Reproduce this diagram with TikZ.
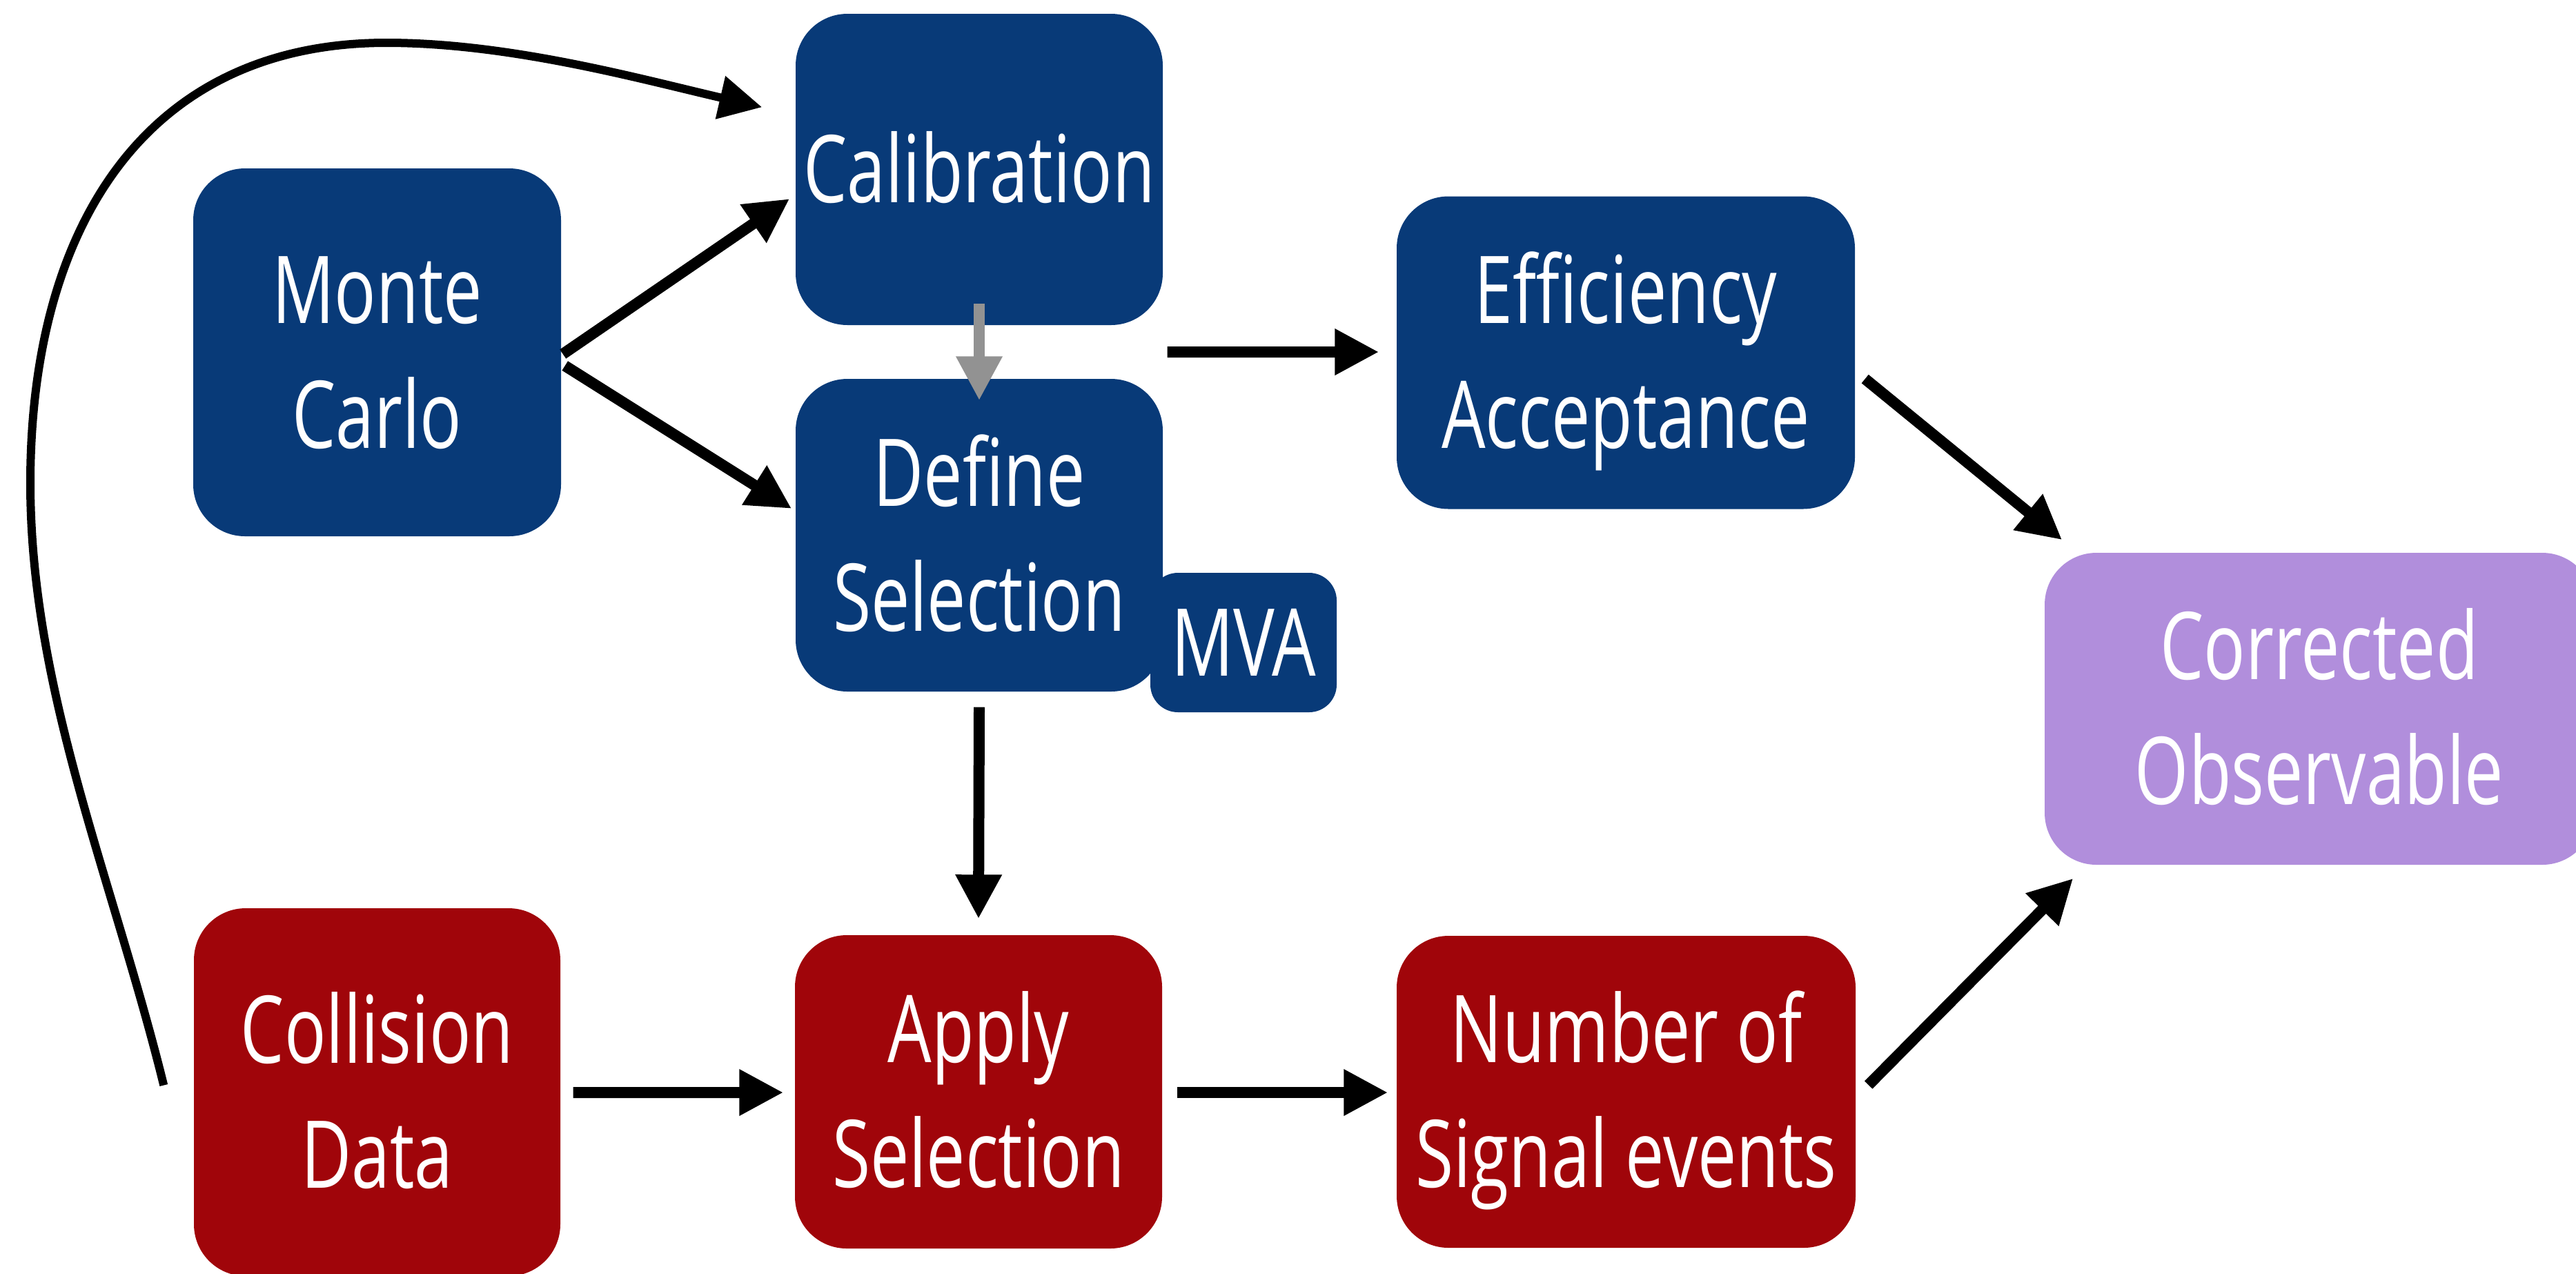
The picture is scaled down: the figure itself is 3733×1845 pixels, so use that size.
\documentclass[tikz,border=0pt]{standalone}
\usepackage{fontspec}
\setmainfont[FakeStretch=0.74]{Open Sans}
\usetikzlibrary{arrows.meta,calc}
\definecolor{mcblue}{HTML}{083A78}
\definecolor{datared}{HTML}{A0050A}
\definecolor{obspurple}{HTML}{B18EDC}
\definecolor{arrgray}{HTML}{929292}
\newcommand\tl[1]{\vphantom{H}\smash{#1}}
\tikzset{
  box/.style={rounded corners=7.5mm, inner sep=0pt, align=center, text=white,
    font=\fontsize{38.6pt}{51.5pt}\selectfont},
  bluebox/.style={box, fill=mcblue},
  redbox/.style={box, fill=datared},
  purplebox/.style={box, fill=obspurple},
  arr/.style={line width=1.6mm, -{Triangle[length=6.4mm,width=6.3mm]}},
  grayarr/.style={line width=1.6mm, draw=arrgray, -{Triangle[length=6.4mm,width=6.3mm]}},
  curvearr/.style={line width=1.2mm, -{Triangle[length=6.2mm,width=6.1mm]}},
}
\begin{document}
\begin{tikzpicture}[x=0.1mm,y=-0.1mm]
\useasboundingbox (0,0) rectangle (3733,1845);
\clip (0,0) rectangle (3733,1845);
% nodes
\node[bluebox, minimum width=53.3mm, minimum height=53.3mm] (mc) at (546.5,510.5) {\tl{Monte}\\\tl{Carlo}};
\node[bluebox, minimum width=53.2mm, minimum height=45.1mm] (cal) at (1419,245.5) {\tl{Calibration}};
\node[bluebox, minimum width=53.2mm, minimum height=45.3mm] (def) at (1419,775.5) {\tl{Define}\\\tl{Selection}};
\node[bluebox, rounded corners=4mm, minimum width=27.0mm, minimum height=20.2mm] (mva) at (1802,931) {\tl{MVA}};
\node[bluebox, minimum width=66.4mm, minimum height=45.3mm] (eff) at (2356,511) {\tl{Efficiency}\\\tl{Acceptance}};
\node[purplebox, minimum width=79.6mm, minimum height=45.2mm] (cor) at (3361,1027) {\tl{Corrected}\\\tl{Observable}};
\node[redbox, minimum width=53.1mm, minimum height=53.3mm] (col) at (546.5,1582.5) {\tl{Collision}\\\tl{Data}};
\node[redbox, minimum width=53.2mm, minimum height=45.4mm] (app) at (1418,1582) {\tl{Apply}\\\tl{Selection}};
\node[redbox, minimum width=66.5mm, minimum height=45.2mm] (num) at (2356.5,1582) {\tl{Number of}\\\tl{Signal events}};
% connectors
\draw[arr] ($(mc.east)+(2,2.5)$) -- ($(cal.west)+(-8,42.5)$);
\draw[arr] ($(mc.east)+(5,19.5)$) -- ($(def.west)+(-5,-38.5)$);
\draw[grayarr] ($(cal.south)+(0,-32)$) -- ($(def.north)+(0,32)$);
\draw[arr] ($(cal.south east)!0.5!(def.north east)+(6,0)$) -- ($(eff.west)+(-25,-1)$);
\draw[arr] ($(def.south)+(0,22)$) -- ($(app.north)+(0,-23)$);
\draw[arr] ($(col.east)+(18,0.5)$) -- ($(app.west)+(-16,1)$);
\draw[arr] ($(app.east)+(21,1)$) -- ($(num.west)+(-12,1)$);
\draw[arr] ($(eff.east)+(14,38)$) -- ($(cor.north west)+(26,-18)$);
\draw[arr] ($(num.east)+(18,-10)$) -- ($(cor.south west)+(42,19)$);
\draw[curvearr] ($(col.west)+(-43,-10)$) .. controls (163,1272) and (44,1000) .. (44,700)
  .. controls (44,330) and (210,62) .. (560,62)
  .. controls (740,62) and (930,115) .. ($(cal.north west)+(-48,136)$);
\end{tikzpicture}
\end{document}
